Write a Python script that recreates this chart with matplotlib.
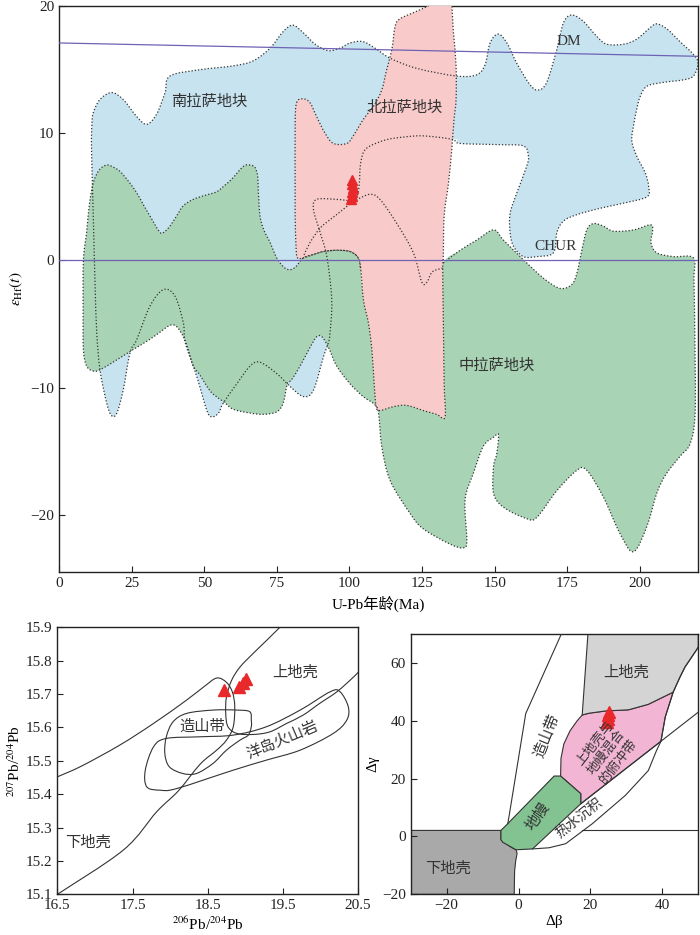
import numpy as np
import matplotlib
matplotlib.use('Agg')
import matplotlib.pyplot as plt
from matplotlib.path import Path
from matplotlib.patches import PathPatch, Polygon

plt.rcParams['font.family'] = ['Liberation Serif', 'Noto Sans CJK SC']
plt.rcParams['mathtext.fontset'] = 'stix'

# ---------------- 上图: εHf(t) - U-Pb 年龄 ----------------
# 南拉萨地块 外轮廓 (上缘 + 右缘)
blue_upper = [(11.2, 8.7), (11.3, 10.6), (11.8, 11.6), (14.1, 12.65), (18.1, 13.2), (22.1, 12.65),
              (26.8, 11.3), (30.2, 10.7), (33.6, 11.5), (36.5, 13.2), (38.2, 14.5), (48.6, 15.0),
              (60, 15.3), (66.9, 15.7), (72.7, 16.7), (77.2, 18.0), (80.5, 18.5), (84.1, 17.9),
              (88.2, 17.0), (92.7, 16.5), (96.8, 16.7), (100.2, 17.1), (104.7, 17.2), (109.4, 16.6),
              (114, 15.9), (123.2, 15.1), (136.9, 14.5), (143.8, 14.6), (146.7, 15.4), (148.4, 17.1),
              (151.2, 17.8), (154.2, 17.1), (157.6, 15.5), (162.2, 13.8), (165, 13.4), (167.9, 14.0),
              (171.4, 16.6), (173.7, 18.7), (176.5, 19.3), (180.5, 18.8), (185.2, 17.6), (188.6, 17.0),
              (194.3, 17.0), (198.9, 17.4), (203.5, 18.3), (205.8, 18.6), (209.3, 18.2), (213.8, 17.2),
              (218.4, 16.2), (220, 15.5), (218.4, 14.5), (215, 14.2), (208.1, 14.0), (202.4, 13.7),
              (200.1, 12.9), (198.9, 11.9), (197.8, 10.6), (197.2, 9.4), (198.9, 8.2), (201.8, 6.9),
              (203, 5.8), (202.4, 5.0), (194.3, 4.5), (186.3, 4.1), (178.3, 3.6), (173.7, 3.1),
              (171.4, 2.2), (170.2, 0.6), (164.5, 0.3), (159.9, 0.3), (156.5, 1.1), (155.3, 2.2),
              (155.3, 3.7), (157.6, 5.3), (161, 7.4), (161.6, 8.2), (159.9, 9.0), (151.9, 9.1),
              (138.1, 9.2), (135.8, 9.5)]
# 南拉萨地块 下缘 (被中拉萨地块遮盖的部分)
blue_lower = [(92.7, -6.5), (91, -7.6), (87.6, -10.2), (84.1, -10.7), (79.5, -9.9), (75, -8.9),
              (69.2, -8.0), (65.8, -8.3), (61.2, -9.7), (56.6, -11.2), (54.9, -12.0), (52.6, -12.3),
              (50.9, -11.8), (47.4, -9.1), (43.5, -6.5), (42.8, -4.9), (39.9, -2.8), (35.9, -2.3),
              (31.3, -3.6), (26.8, -6.2), (24.4, -7.3), (22.1, -10.2), (19.9, -12.0), (18.1, -12.2),
              (16.4, -11.2), (14.1, -8.6), (13.0, -5.7), (12.4, -1.8), (11.8, 3.5)]
blue_hidden = [(120, 8), (105, 3), (96, -1.5), (94, -4.5)]
# 北拉萨地块内部的虚线
curve_a = [(130, 9.7), (124.3, 9.8), (118.6, 9.7), (112.8, 9.5), (107.1, 9.0), (104.8, 8.5),
           (103.7, 7.4), (103.4, 6.1), (102.5, 5.0), (99.1, 4.25), (93.3, 3.2), (89.9, 2.55),
           (86.4, 1.4), (84.1, 0.3)]
curve_b = [(132.1, -0.6), (128.5, -0.9), (126.7, -1.7), (124.9, -1.7), (122, 0.6), (116.3, 2.9),
           (110.5, 4.8), (107.1, 5.2), (102.5, 4.8), (100.2, 4.7), (95.6, 4.8), (88.7, 4.8),
           (87.6, 4.0), (89.9, 2.2), (92.2, 0.3), (93.9, -3.1), (93.3, -5.7)]

# 中拉萨地块
green_field = [(132.3, -0.2), (138.1, 0.8), (143.8, 1.6), (149.6, 2.4), (153, 1.6), (159.9, 0.05),
               (166.8, -1.4), (172.5, -2.2), (176.5, -1.9), (178.3, -1.0), (180, 0.8), (181.7, 2.4),
               (184, 2.9), (187.4, 2.7), (190.9, 2.3), (197.8, 2.4), (203.5, 2.8), (204.4, 2.4),
               (203.8, 1.4), (205.8, 0.6), (211.5, 0.3), (218.4, 0.2), (218.6, -1.5), (218.9, -6),
               (219, -12), (217.3, -14.4), (213.8, -15.4), (209, -16.8), (205.8, -18.3), (202.4, -20.9),
               (197.8, -22.9), (193.2, -21.5), (187.4, -18.6), (181.7, -16.5), (178.3, -16.5),
               (171.4, -18.1), (164.5, -20.2), (161, -20.3), (153, -19.4), (149.6, -18.3),
               (149.6, -16.2), (150.7, -15.2), (151.3, -13.7), (149.6, -13.9), (146.1, -14.6),
               (142.7, -16.7), (139.8, -18.8), (140.4, -22), (139.2, -22.6), (134.6, -22.3),
               (125.4, -21.1), (120.9, -19.9), (114, -17.3), (111.1, -14.6), (110, -12.0),
               (108.5, -11.3), (104.7, -10.7), (100.2, -9.7), (95.6, -8.3), (92.7, -6.8), (90.5, -6.0),
               (88.7, -6.0), (86.5, -6.8), (83, -8.3), (80, -9.4), (78.6, -9.7), (77.2, -11.2),
               (75, -11.9), (70.4, -12.1), (65.8, -12.0), (60, -11.7), (56.6, -11.1), (53, -10.5),
               (50.9, -9.9), (48.5, -9.0), (46.2, -8.3), (44.5, -7.0), (42.8, -6.0), (40.5, -5.2),
               (38.2, -5.1), (35, -5.6), (31.3, -6.2), (25.6, -7.0), (20, -7.8), (14.1, -8.6),
               (11.8, -8.7), (9.5, -8.3), (8.4, -7.0), (8.3, -4.0), (8.4, 0), (9.5, 2.2), (10.5, 4.5),
               (11.8, 6.1), (13.5, 7.0), (15.3, 7.4), (17, 7.5), (19, 7.3), (21, 7.0), (24, 6.2),
               (26.8, 5.3), (29, 4.4), (31.3, 3.5), (34.8, 2.2), (36.5, 2.3), (38.2, 2.7), (40.5, 3.5),
               (42.8, 4.3), (46.2, 4.8), (50, 5.1), (54.3, 5.4), (57, 5.9), (59.5, 6.4), (63.5, 7.4),
               (65.8, 7.5), (67.5, 7.3), (68.4, 6.6), (68.6, 5.5), (69.2, 3.5), (70.5, 2.4), (72.7, 1.4),
               (74.5, 0.4), (76.1, -0.2), (77.8, -0.6), (79.5, -0.73), (81.5, -0.5), (84.1, 0.2),
               (88, 0.5), (91, 0.7), (95.6, 0.8), (100.2, 0.7), (103, 0.2), (103.8, -0.7)]
green_hidden = [(106, -3), (118, -4), (129, -3)]

# 北拉萨地块
pink_field = [(81.8, 12.4), (84.1, 12.7), (86.4, 12.4), (88.7, 11.3), (91.6, 10.0), (94.5, 9.2),
              (99.1, 9.2), (101.3, 9.8), (104.8, 11.1), (108.2, 12.1), (111.1, 13.4), (112.8, 15.0),
              (114.6, 16.6), (115.7, 18.4), (117.4, 19.0), (123.2, 19.6), (127.8, 20.1), (131.2, 20.7),
              (134.6, 21.2), (135.8, 17.9), (136.7, 15.3), (136.7, 12.65), (136, 11.1), (135.2, 8.7),
              (134.1, 6.1), (132.6, 3.5), (132.3, 0.3), (132.1, -0.7), (132.3, -4.4), (132.6, -9.7),
              (132.9, -12.3), (130, -12.1), (125.4, -11.8), (119.7, -11.4), (115.1, -11.5),
              (110.5, -11.8), (109.2, -11.5), (108.5, -9.7), (107.7, -7.0), (106.5, -4.9),
              (104.8, -3.1), (103.9, -0.7), (103, 0.2), (100.2, 0.7), (95.6, 0.8), (91, 0.7),
              (88, 0.5), (84.1, 0.2), (82.1, 0.2), (81.6, 1.1), (81.3, 3.5), (81.3, 5.3), (81.3, 10.6)]

dm_age = [0, 220]
dm_ehf = [17.1, 16.05]
chur_age = [0, 220]
chur_ehf = [0, 0]

sample_age = [100.6, 101.0, 100.8, 101.1, 100.7, 100.9]
sample_ehf = [4.8, 5.1, 5.4, 5.7, 6.0, 6.3]

# ---------------- 左下图: 207Pb/204Pb - 206Pb/204Pb ----------------
pb_line_v = [(16.5, 15.452), (16.82, 15.484), (17.33, 15.547), (17.78, 15.612), (18.22, 15.682),
             (18.45, 15.722), (18.62, 15.748), (18.75, 15.735), (18.83, 15.705), (18.86, 15.662),
             (18.84, 15.602), (18.75, 15.562), (18.62, 15.532), (18.4, 15.49), (18.11, 15.41),
             (17.82, 15.347), (17.38, 15.233), (16.5, 15.10)]
pb_line_u = [(19.46, 15.9), (19.285, 15.861), (19.106, 15.822), (18.93, 15.781), (18.82, 15.742),
             (18.75, 15.692), (18.74, 15.642), (18.77, 15.602), (18.89, 15.582), (19.11, 15.579),
             (19.33, 15.587), (19.55, 15.612), (19.77, 15.637), (19.99, 15.672), (20.22, 15.707),
             (20.44, 15.751), (20.5, 15.765)]
pb_orogen = [(19.08, 15.622), (19.06, 15.647), (18.89, 15.652), (18.57, 15.652), (18.22, 15.642),
             (18.04, 15.617), (17.95, 15.572), (17.93, 15.522), (17.99, 15.482), (18.17, 15.462),
             (18.35, 15.462), (18.57, 15.492), (18.75, 15.532), (18.93, 15.562), (19.04, 15.577),
             (19.08, 15.602)]
pb_oiv = [(17.78, 15.542), (17.67, 15.472), (17.69, 15.422), (17.87, 15.412), (18.09, 15.417),
          (18.84, 15.472), (19.28, 15.502), (19.73, 15.532), (20.17, 15.582), (20.35, 15.622),
          (20.37, 15.662), (20.26, 15.707), (20.13, 15.707), (19.73, 15.652), (19.28, 15.602),
          (18.84, 15.577), (18.40, 15.572), (17.95, 15.567)]
pb206 = [18.72, 18.92, 18.97, 19.01]
pb207 = [15.712, 15.722, 15.732, 15.745]

# ---------------- 右下图: Δγ - Δβ ----------------
lower_crust = [(-30, -20), (-30, 2.1), (-4.9, 2.1), (-4.9, -1.1), (-2.1, -3.7), (-0.7, -4.6),
               (-0.4, -5.8), (-0.8, -8.5), (-1.1, -12), (-1.2, -20)]
mantle = [(-4.9, 2.1), (-3.5, 3.8), (9.9, 20.9), (11.7, 20.9), (17.3, 14.8), (17.3, 11.3),
          (3.9, -4.3), (-0.7, -4.6), (-4.4, -2.0), (-4.9, -1.1)]
mix_top = [(17.7, 42.0), (19.5, 42.6), (24.2, 43.4), (30.6, 43.8), (36.1, 45.7), (43, 49.9)]
mix_left = [(11.7, 20.9), (11.8, 27), (12.6, 32), (14.3, 36.5), (16.3, 40.0)]
mix_right = [(40.8, 41.3), (39.6, 32.9), (17.3, 11.3), (17.3, 14.8)]
upper_crust_right = [(44.9, 55.1), (46.3, 58.6), (49.5, 64.5), (50, 65.5), (50, 70), (19.3, 70)]
hydro_curve = [(3.9, -4.3), (8.5, -3.9), (13.1, -2.5), (20.5, 4.4), (29.7, 14.2), (36.1, 22.8),
               (38.4, 29.8), (39.6, 32.9), (40.8, 41.3), (43, 49.9), (44.9, 55.1), (46.3, 58.6),
               (49.5, 64.5), (50, 65.5)]
subduct_line = [(17.3, 11.3), (50, 43)]
orogen_line = [(-3.0, 4.4), (-2.6, 7.3), (2.0, 42.5), (11.9, 70)]
flat_line = [(17.6, 2.1), (50, 2.1)]
d_beta = [24.6, 25.0, 24.8, 25.1]
d_gamma = [39.5, 40.7, 42.0, 43.2]


def smooth_path(pts, closed=True):
    p = np.asarray(pts, float)
    n = len(p)
    if closed:
        ext = np.vstack([p[-1], p, p[0], p[1]])
        segs = n
    else:
        ext = np.vstack([p[0], p, p[-1]])
        segs = n - 1
    verts = [p[0]]
    codes = [Path.MOVETO]
    for i in range(segs):
        p0, p1, p2, p3 = ext[i], ext[i + 1], ext[i + 2], ext[i + 3]
        verts += [p1 + (p2 - p0) / 6, p2 - (p3 - p1) / 6, p2]
        codes += [Path.CURVE4] * 3
    return Path(verts, codes)


fig = plt.figure(figsize=(7, 9.35), dpi=100)
dots = dict(fill=False, edgecolor='#333333', lw=0.9, linestyle=(0, (1, 1.6)), zorder=4)

# ---- 上图 ----
ax = fig.add_axes([0.0843, 0.3882, 0.9129, 0.6053])
blue_fill = blue_upper + blue_hidden + blue_lower
ax.add_patch(PathPatch(smooth_path(blue_fill), facecolor='#c6e3ef', edgecolor='none', zorder=1))
ax.add_patch(PathPatch(smooth_path(green_field + green_hidden), facecolor='#a8d3b4',
                       edgecolor='none', zorder=2))
ax.add_patch(PathPatch(smooth_path(pink_field), facecolor='#f8caca', edgecolor='none', zorder=3))

ax.add_patch(PathPatch(smooth_path(curve_b + blue_lower + blue_upper + curve_a, closed=False), **dots))
ax.add_patch(PathPatch(smooth_path(green_field, closed=False), **dots))
ax.add_patch(PathPatch(smooth_path(pink_field), **dots))

ax.plot(dm_age, dm_ehf, color='#6f62b4', lw=0.9, zorder=5)
ax.plot(chur_age, chur_ehf, color='#6f62b4', lw=0.9, zorder=5)
ax.plot(sample_age, sample_ehf, '^', color='#e8282b', ms=7, mec='#e8282b', zorder=6)

lab = dict(fontsize=11, color='#333333', ha='center', va='center', zorder=7)
ax.text(51.8, 12.45, '南拉萨地块', **lab)
ax.text(119.1, 12.0, '北拉萨地块', **lab)
ax.text(150.7, -8.3, '中拉萨地块', **lab)
ax.text(175.4, 17.2, 'DM', **lab)
ax.text(171.1, 1.1, 'CHUR', **lab)

ax.set_xlim(0, 220)
ax.set_ylim(-24.5, 20)
ax.set_xticks(range(0, 201, 25))
ax.set_yticks([-20, -10, 0, 10, 20])
ax.set_xlabel('U-Pb年龄(Ma)', fontsize=11)
ax.set_ylabel(r'$\varepsilon_{\mathrm{Hf}}(t)$', fontsize=11)

# ---- 左下图 ----
bx = fig.add_axes([0.0819, 0.0435, 0.4296, 0.2856])
line = dict(fill=False, edgecolor='#333333', lw=0.8)
bx.add_patch(PathPatch(smooth_path(pb_line_v, closed=False), **line))
bx.add_patch(PathPatch(smooth_path(pb_line_u, closed=False), **line))
bx.add_patch(PathPatch(smooth_path(pb_orogen), **line))
bx.add_patch(PathPatch(smooth_path(pb_oiv), **line))
bx.plot(pb206, pb207, '^', color='#e8282b', ms=9, mec='#e8282b', zorder=6)
bx.text(19.66, 15.765, '上地壳', **lab)
bx.text(18.42, 15.602, '造山带', **lab)
bx.text(19.5, 15.562, '洋岛火山岩', rotation=23, rotation_mode='anchor', **lab)
bx.text(16.91, 15.256, '下地壳', **lab)
bx.set_xlim(16.5, 20.5)
bx.set_ylim(15.1, 15.9)
bx.set_xticks([16.5, 17.5, 18.5, 19.5, 20.5])
bx.set_yticks(np.round(np.arange(15.1, 15.91, 0.1), 1))
bx.set_xlabel(r'$^{206}$Pb/$^{204}$Pb', fontsize=11, labelpad=2)
bx.set_ylabel(r'$^{207}$Pb/$^{204}$Pb', fontsize=11, labelpad=2)

# ---- 右下图 ----
cx = fig.add_axes([0.5867, 0.0435, 0.4109, 0.2784])
edge = dict(edgecolor='#333333', lw=0.8)
cx.add_patch(Polygon(lower_crust, closed=True, facecolor='#a9a9a9', zorder=1, **edge))
cx.add_patch(Polygon(mix_left + mix_top + mix_right, closed=True, facecolor='#f2b5d4', zorder=1, **edge))
cx.add_patch(Polygon(mix_top + upper_crust_right, closed=True, facecolor='#d4d4d4', zorder=1, **edge))
cx.add_patch(Polygon(mantle, closed=True, facecolor='#82c391', zorder=2, **edge))
for seg in [hydro_curve, subduct_line, orogen_line, flat_line]:
    xs, ys = zip(*seg)
    cx.plot(xs, ys, color='#333333', lw=0.8, zorder=3)
cx.plot(d_beta, d_gamma, '^', color='#e8282b', ms=9, mec='#e8282b', zorder=6)
cx.text(29.9, 56.6, '上地壳', **lab)
cx.text(8.0, 34.9, '造山带', rotation=68, rotation_mode='anchor', **lab)
cx.text(24.5, 29.0, '上地壳与\n地幔混合\n的俯冲带', rotation=52, rotation_mode='anchor',
        linespacing=1.25, **dict(lab, fontsize=9.5))
cx.text(5.4, 7.0, '地幔', rotation=55, rotation_mode='anchor', **lab)
cx.text(16.9, 6.4, '热水沉积', rotation=38, rotation_mode='anchor', **dict(lab, fontsize=10))
cx.text(-19.6, -11.2, '下地壳', **lab)
cx.set_xlim(-30, 50)
cx.set_ylim(-20, 70)
cx.set_xticks([-20, 0, 20, 40])
cx.set_yticks([-20, 0, 20, 40, 60])
cx.set_xlabel('Δβ', fontsize=11, labelpad=2)
cx.set_ylabel('Δγ', fontsize=11, labelpad=2)

for a in (ax, bx, cx):
    a.tick_params(direction='in', length=4, width=0.8, labelsize=11, colors='#222222')
    for s in a.spines.values():
        s.set_linewidth(1.0)
        s.set_color('#222222')

fig.savefig('out.png', dpi=100)
